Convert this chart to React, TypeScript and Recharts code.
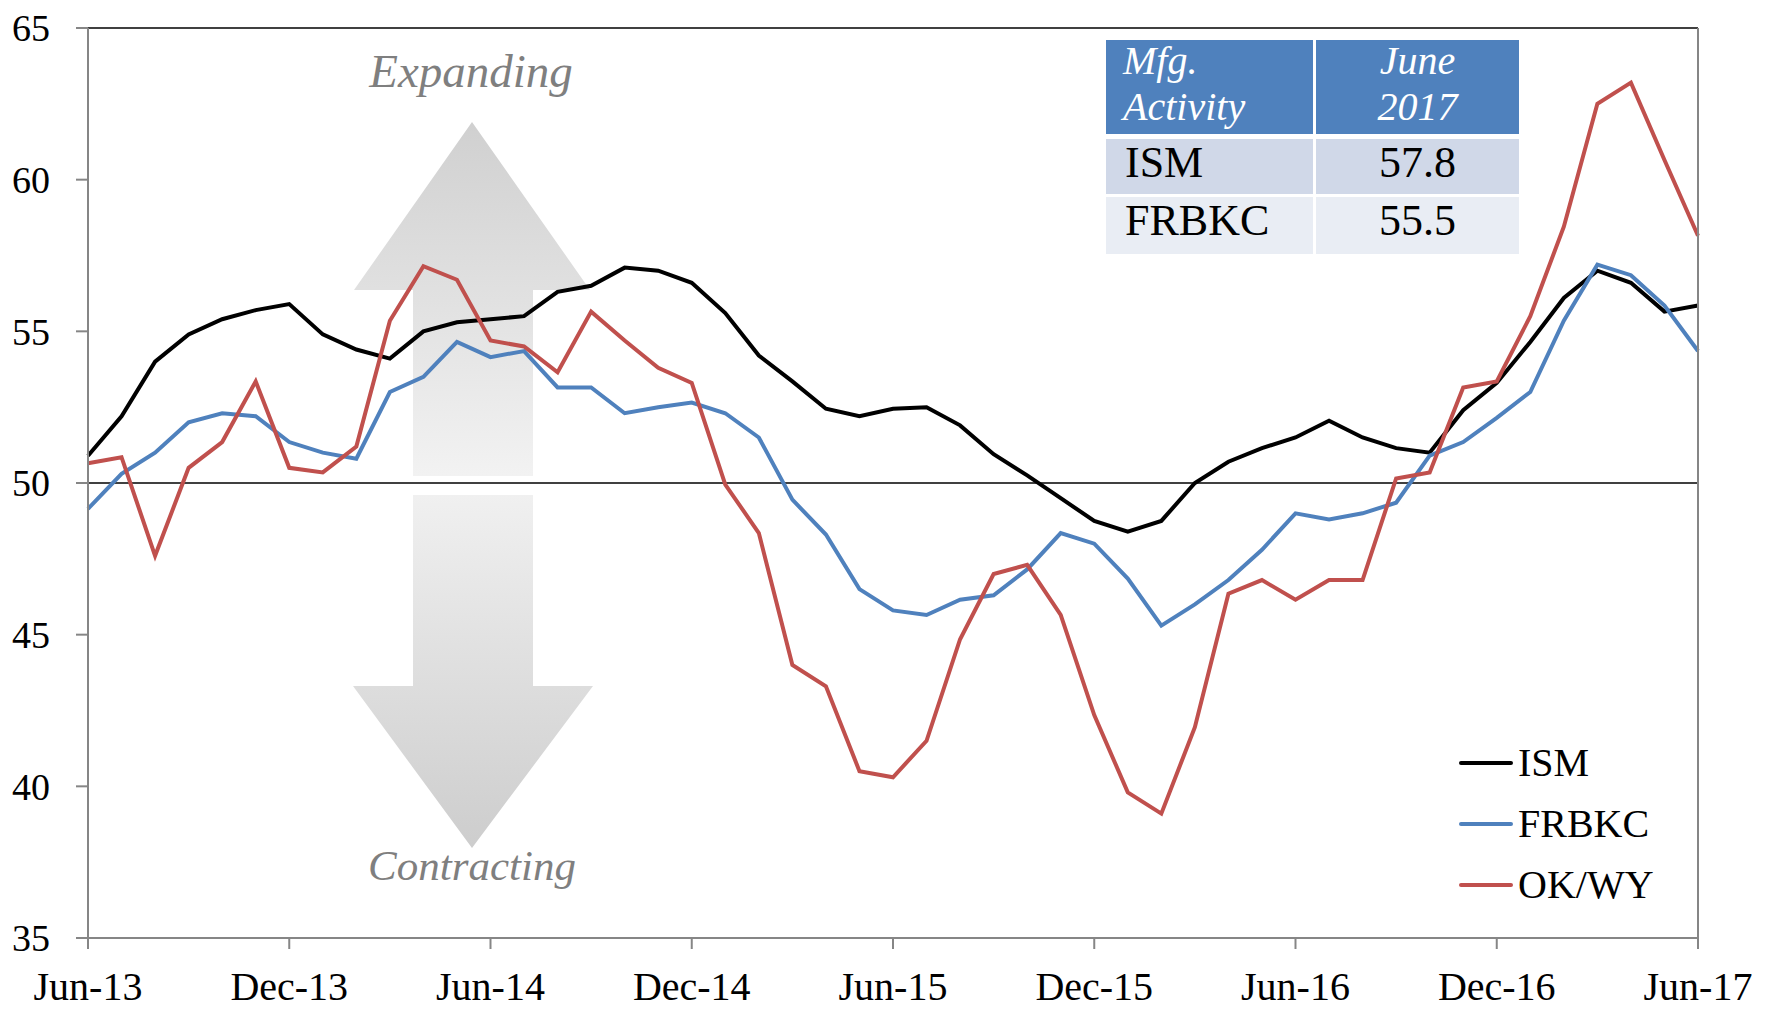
import React from 'react';
import { LineChart, Line, XAxis, YAxis, ReferenceLine } from 'recharts';

const MONTH_NAMES = ['Jan', 'Feb', 'Mar', 'Apr', 'May', 'Jun', 'Jul', 'Aug', 'Sep', 'Oct', 'Nov', 'Dec'];
// Jun-13 .. Jun-17 (49 monthly categories)
const months: string[] = [];
for (let i = 0; i < 49; i++) {
  const m = (5 + i) % 12;
  const y = 13 + Math.floor((5 + i) / 12);
  months.push(`${MONTH_NAMES[m]}-${y}`);
}

const ism = [
  50.9, 52.2, 54.0, 54.9, 55.4, 55.7, 55.9, 54.9, 54.4, 54.1, 55.0, 55.3, 55.4,
  55.5, 56.3, 56.5, 57.1, 57.0, 56.6, 55.6, 54.2, 53.35, 52.45, 52.2, 52.45, 52.5,
  51.9, 50.95, 50.25, 49.5, 48.75, 48.4, 48.75, 50.0, 50.7, 51.15, 51.5, 52.05, 51.5,
  51.15, 51.0, 52.4, 53.3, 54.65, 56.1, 57.0, 56.6, 55.65, 55.85,
];
const frbkc = [
  49.15, 50.3, 51.0, 52.0, 52.3, 52.2, 51.35, 51.0, 50.8, 53.0, 53.5, 54.65, 54.15,
  54.35, 53.15, 53.15, 52.3, 52.5, 52.65, 52.3, 51.5, 49.45, 48.3, 46.5, 45.8, 45.65,
  46.15, 46.3, 47.15, 48.35, 48.0, 46.85, 45.3, 46.0, 46.8, 47.8, 49.0, 48.8, 49.0,
  49.35, 50.9, 51.35, 52.15, 53.0, 55.35, 57.2, 56.85, 55.85, 54.35,
];
const okwy = [
  50.65, 50.85, 47.6, 50.5, 51.35, 53.35, 50.5, 50.35, 51.2, 55.35, 57.15, 56.7, 54.7,
  54.5, 53.65, 55.65, 54.7, 53.8, 53.3, 49.95, 48.35, 44.0, 43.3, 40.5, 40.3, 41.5,
  44.85, 47.0, 47.3, 45.65, 42.35, 39.8, 39.1, 41.95, 46.35, 46.8, 46.15, 46.8, 46.8,
  50.15, 50.35, 53.15, 53.35, 55.5, 58.45, 62.5, 63.2, 60.65, 58.15,
];

const yTicks = [35, 40, 45, 50, 55, 60, 65];

const seriesNames = ['ISM', 'FRBKC', 'OK/WY'];
const seriesKeys = ['ism', 'frbkc', 'okwy'];
const seriesColors = ['#000000', '#4F81BD', '#C0504D'];

const tableHeader = [['Mfg.', 'Activity'], ['June', '2017']];
const tableRows = [['ISM', '57.8'], ['FRBKC', '55.5']];

const data = months.map((m, i) => ({ month: m, ism: ism[i], frbkc: frbkc[i], okwy: okwy[i] }));

const FONT = '"Liberation Serif", "DejaVu Serif", serif';
const AXIS_GRAY = '#868686';

function Arrows() {
  return (
    <svg width={1777} height={1010} style={{ position: 'absolute', left: 0, top: 0 }}>
      <defs>
        <linearGradient id="upG" x1="0" y1="0" x2="0" y2="1">
          <stop offset="0" stopColor="#D0D0D0" />
          <stop offset="1" stopColor="#F2F2F2" />
        </linearGradient>
        <linearGradient id="dnG" x1="0" y1="0" x2="0" y2="1">
          <stop offset="0" stopColor="#F0F0F0" />
          <stop offset="1" stopColor="#CDCDCD" />
        </linearGradient>
      </defs>
      <polygon points="472,122 590,290 533,290 533,476 413,476 413,290 354,290" fill="url(#upG)" />
      <polygon points="413,495 533,495 533,686 593,686 472,848 353,686 413,686" fill="url(#dnG)" />
      <text x={471} y={87} textAnchor="middle" fontFamily={FONT} fontStyle="italic" fontSize={47} fill="#7F7F7F">Expanding</text>
      <text x={472} y={880} textAnchor="middle" fontFamily={FONT} fontStyle="italic" fontSize={43} fill="#7F7F7F">Contracting</text>
    </svg>
  );
}

function Overlay() {
  const col1x = 1106, col1w = 207, col2x = 1316, col2w = 203;
  const c2mid = col2x + col2w / 2;
  return (
    <svg width={1777} height={1010} style={{ position: 'absolute', left: 0, top: 0, pointerEvents: 'none' }}>
      {/* table */}
      <rect x={col1x} y={40} width={col1w} height={94} fill="#4F81BD" />
      <rect x={col2x} y={40} width={col2w} height={94} fill="#4F81BD" />
      <rect x={col1x} y={139} width={col1w} height={55} fill="#D0D8E8" />
      <rect x={col2x} y={139} width={col2w} height={55} fill="#D0D8E8" />
      <rect x={col1x} y={197} width={col1w} height={57} fill="#E9EDF4" />
      <rect x={col2x} y={197} width={col2w} height={57} fill="#E9EDF4" />
      <g fontFamily={FONT} fontStyle="italic" fontSize={40} fill="#FFFFFF">
        <text x={1123} y={74}>{tableHeader[0][0]}</text>
        <text x={1123} y={120}>{tableHeader[0][1]}</text>
        <text x={c2mid} y={74} textAnchor="middle">{tableHeader[1][0]}</text>
        <text x={c2mid} y={120} textAnchor="middle">{tableHeader[1][1]}</text>
      </g>
      <g fontFamily={FONT} fontSize={44} fill="#000">
        {tableRows.map((r, i) => (
          <g key={i}>
            <text x={1125} y={177 + i * 58}>{r[0]}</text>
            <text x={c2mid} y={177 + i * 58} textAnchor="middle">{r[1]}</text>
          </g>
        ))}
      </g>
      {/* legend */}
      {seriesNames.map((n, i) => (
        <g key={n}>
          <line x1={1461} x2={1511} y1={763 + i * 61} y2={763 + i * 61} stroke={seriesColors[i]} strokeWidth={4} strokeLinecap="round" />
          <text x={1518} y={776 + i * 61} fontFamily={FONT} fontSize={40} fill="#000">{n}</text>
        </g>
      ))}
    </svg>
  );
}

export default function App() {
  const tickStyle = { fill: '#000', fontSize: 38, fontFamily: FONT };
  return (
    <div style={{ position: 'absolute', left: 0, top: 0, width: 1777, height: 1010, background: '#fff', overflow: 'hidden' }}>
      <Arrows />
      <div style={{ position: 'absolute', left: 0, top: 0 }}>
        <LineChart width={1777} height={1010} data={data} margin={{ top: 28, right: 0, bottom: 0, left: 0 }}>
          <XAxis
            dataKey="month"
            interval={5}
            height={72}
            tickSize={11}
            tickMargin={23}
            axisLine={{ stroke: AXIS_GRAY, strokeWidth: 2 }}
            tickLine={{ stroke: AXIS_GRAY, strokeWidth: 2 }}
            tick={{ fill: '#000', fontSize: 40, fontFamily: FONT }}
          />
          <YAxis
            yAxisId="left"
            type="number"
            domain={[35, 65]}
            ticks={yTicks}
            width={88}
            tickSize={12}
            tickMargin={26}
            axisLine={{ stroke: AXIS_GRAY, strokeWidth: 2 }}
            tickLine={{ stroke: AXIS_GRAY, strokeWidth: 2 }}
            tick={tickStyle}
          />
          <YAxis
            yAxisId="right"
            orientation="right"
            type="number"
            domain={[35, 65]}
            ticks={yTicks}
            width={79}
            tickSize={12}
            tickMargin={25}
            axisLine={{ stroke: AXIS_GRAY, strokeWidth: 2 }}
            tickLine={{ stroke: AXIS_GRAY, strokeWidth: 2 }}
            tick={tickStyle}
          />
          <ReferenceLine yAxisId="left" y={50} stroke="#000" strokeWidth={1.4} />
          <ReferenceLine yAxisId="left" y={65} stroke="#000" strokeWidth={1.6} />
          {seriesKeys.map((k, i) => (
            <Line
              key={k}
              yAxisId="left"
              type="linear"
              dataKey={k}
              name={seriesNames[i]}
              stroke={seriesColors[i]}
              strokeWidth={4}
              dot={false}
              activeDot={false}
              isAnimationActive={false}
            />
          ))}
        </LineChart>
      </div>
      <Overlay />
    </div>
  );
}
